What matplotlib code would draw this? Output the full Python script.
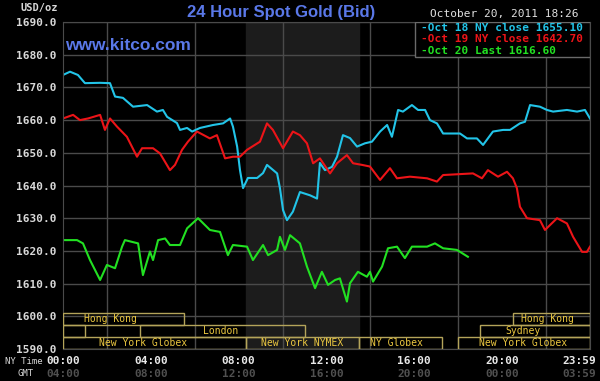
import matplotlib.pyplot as plt
import matplotlib.patches as patches
from matplotlib.ticker import MultipleLocator

# hours since 00:00 NY time, bid prices
oct18_hours = [0, 0.32, 0.68, 1.00, 1.69, 2.14, 2.37, 2.73, 3.19, 3.83, 4.28,
               4.55, 4.74, 5.19, 5.33, 5.65, 5.88, 6.24, 6.83, 7.29, 7.61,
               7.74, 7.93, 8.06, 8.20, 8.42, 8.84, 9.11, 9.29, 9.75, 9.88,
               10.02, 10.20, 10.47, 10.79, 11.25, 11.57, 11.70, 11.93, 12.25,
               12.48, 12.75, 13.07, 13.39, 13.75, 14.07, 14.44, 14.76, 14.98,
               15.26, 15.48, 15.89, 16.17, 16.49, 16.71, 17.03, 17.31, 18.08,
               18.40, 18.85, 19.13, 19.58, 20.04, 20.36, 20.81, 21.04, 21.27,
               21.72, 22.04, 22.32, 22.95, 23.41, 23.77, 24.0]
oct18_price = [1673.8, 1674.8, 1673.8, 1671.3, 1671.4, 1671.3, 1667.2, 1666.8,
               1664.1, 1664.6, 1662.6, 1663.1, 1661.0, 1659.1, 1657.0, 1657.6,
               1656.5, 1657.6, 1658.5, 1659.0, 1660.5, 1658.0, 1651.9, 1644.7,
               1639.2, 1642.3, 1642.3, 1643.8, 1646.3, 1643.7, 1639.2, 1632.5,
               1629.4, 1632.0, 1638.0, 1637.0, 1636.0, 1646.9, 1644.7, 1645.7,
               1648.8, 1655.4, 1654.5, 1651.9, 1652.9, 1653.4, 1656.5, 1658.5,
               1654.9, 1663.1, 1662.6, 1664.6, 1663.1, 1663.1, 1660.0, 1659.0,
               1655.9, 1655.9, 1654.4, 1654.4, 1652.4, 1656.5, 1657.0, 1657.0,
               1659.0, 1659.5, 1664.6, 1664.1, 1663.1, 1662.6, 1663.1, 1662.6,
               1663.1, 1660.5]

oct19_hours = [0, 0.46, 0.77, 1.14, 1.69, 1.91, 2.14, 2.46, 2.91, 3.37, 3.60,
               4.10, 4.42, 4.87, 5.10, 5.42, 5.69, 6.10, 6.69, 7.01, 7.38,
               7.74, 8.06, 8.38, 8.97, 9.29, 9.56, 10.02, 10.47, 10.79, 11.11,
               11.39, 11.70, 12.16, 12.48, 12.93, 13.21, 13.62, 13.98, 14.44,
               14.89, 15.21, 15.80, 16.58, 17.03, 17.31, 18.67, 19.08, 19.35,
               19.81, 20.22, 20.49, 20.67, 20.81, 21.13, 21.72, 21.95, 22.50,
               22.95, 23.23, 23.64, 23.86, 24.0]
oct19_price = [1660.5, 1661.6, 1660.0, 1660.5, 1661.6, 1657.0, 1660.5, 1658.0,
               1654.9, 1648.8, 1651.4, 1651.4, 1649.8, 1644.7, 1646.3, 1650.9,
               1653.4, 1656.5, 1654.4, 1655.4, 1648.3, 1648.8, 1648.8, 1650.9,
               1653.4, 1659.0, 1657.0, 1651.4, 1656.5, 1655.4, 1652.9, 1646.8,
               1648.3, 1643.7, 1646.8, 1649.3, 1646.8, 1646.3, 1645.8, 1641.7,
               1645.3, 1642.2, 1642.7, 1642.2, 1641.2, 1643.2, 1643.7, 1642.2,
               1644.7, 1642.7, 1644.2, 1642.2, 1639.2, 1633.5, 1630.0, 1629.4,
               1626.4, 1630.0, 1628.4, 1624.3, 1619.7, 1619.7, 1621.3]

oct20_hours = [0, 0.64, 0.91, 1.23, 1.69, 2.00, 2.37, 2.69, 2.82, 3.42, 3.64,
               3.96, 4.10, 4.33, 4.65, 4.87, 5.33, 5.65, 6.15, 6.69, 7.15,
               7.51, 7.74, 8.38, 8.65, 9.11, 9.34, 9.75, 9.88, 10.11, 10.34,
               10.79, 11.11, 11.48, 11.79, 12.07, 12.39, 12.61, 12.93, 13.07,
               13.43, 13.84, 13.98, 14.12, 14.53, 14.80, 15.21, 15.57, 15.89,
               16.58, 16.94, 17.31, 17.94, 18.44]
oct20_price = [1623.3, 1623.3, 1622.3, 1617.2, 1611.1, 1615.7, 1614.7, 1621.3,
               1623.3, 1622.3, 1612.6, 1619.8, 1617.2, 1623.3, 1623.8, 1621.8,
               1621.8, 1626.9, 1630.0, 1626.4, 1625.8, 1618.7, 1621.8, 1621.3,
               1617.2, 1621.8, 1618.7, 1620.3, 1624.3, 1620.3, 1624.8, 1622.3,
               1615.2, 1608.6, 1613.6, 1609.6, 1611.1, 1611.6, 1604.5, 1610.1,
               1613.6, 1612.1, 1613.6, 1610.6, 1615.2, 1620.8, 1621.3, 1617.8,
               1621.3, 1621.3, 1622.3, 1620.8, 1620.3, 1618.2]

legend_labels = ["Oct 18 NY close 1655.10",
                 "Oct 19 NY close 1642.70",
                 "Oct 20 Last 1616.60"]

ny_ticks = [0, 4, 8, 12, 16, 20, 23.5]
ny_labels = ["00:00", "04:00", "08:00", "12:00", "16:00", "20:00", "23:59"]
gmt_labels = ["04:00", "08:00", "12:00", "16:00", "20:00", "00:00", "03:59"]

# trading sessions: name, start hour, end hour, row (0 = bottom)
session_names = ["Hong Kong", "Sydney", "London", "New York Globex",
                 "New York NYMEX", "NY Globex", "New York Globex", "Sydney",
                 "Hong Kong"]
session_start = [0, 0, 3.5, 0, 8.33, 13.5, 18.0, 19.0, 20.5]
session_end = [5.5, 1.0, 11.0, 8.33, 13.5, 17.25, 24.0, 24.0, 24.0]
session_row = [2, 1, 1, 0, 0, 0, 0, 1, 2]
session_label_x = [2.15, None, 7.2, 3.65, 10.9, 15.2, 20.95, 20.95, 22.05]

nymex_open = 8.33
nymex_close = 13.5

MONO = "DejaVu Sans Mono"
CYAN = "#22c4e8"
RED = "#ec1418"
GREEN = "#22e022"
GRID = "#4a4a4a"


def draw_sessions(ax):
    row_bottom = 1590.0
    row_h = 3.7
    for name, s, e, r, lx in zip(session_names, session_start, session_end,
                                 session_row, session_label_x):
        y0 = row_bottom + r * row_h
        ax.add_patch(patches.Rectangle((s, y0), e - s, row_h, fill=False,
                                       edgecolor="#b4a45a", linewidth=1.0,
                                       zorder=3))
        if lx is not None:
            ax.text(lx, y0 + row_h / 2, name, color="#ecc840", fontsize=7,
                    family=MONO, ha="center", va="center", zorder=4)


def plot():
    fig = plt.figure(figsize=(6, 3.81), dpi=100, facecolor="black")
    ax = fig.add_axes([63 / 600, 1 - 349 / 381, 527 / 600, 327 / 381])
    ax.set_facecolor("black")
    ax.set_xlim(0, 24)
    ax.set_ylim(1590, 1690)

    ax.axvspan(nymex_open, nymex_close, color="#1c1c1c", zorder=0)

    ax.xaxis.set_minor_locator(MultipleLocator(2))
    ax.set_yticks(range(1590, 1691, 10))
    ax.set_yticklabels([f"{v}.0" for v in range(1590, 1691, 10)])
    ax.grid(True, which="minor", axis="x", color=GRID, linewidth=1.0)
    ax.grid(True, which="major", axis="y", color=GRID, linewidth=1.0)
    ax.set_axisbelow(True)
    for sp in ax.spines.values():
        sp.set_color(GRID)

    ax.set_xticks(ny_ticks)
    ax.set_xticklabels(ny_labels)
    ax.tick_params(which="both", length=0)
    ax.tick_params(axis="y", pad=5, colors="#d8d8d8", labelsize=8)
    ax.tick_params(axis="x", pad=5, colors="#e8e8e8", labelsize=8)
    for lbl in ax.get_xticklabels() + ax.get_yticklabels():
        lbl.set_family(MONO)
        lbl.set_fontweight("bold")

    for x, g in zip(ny_ticks, gmt_labels):
        ax.text(x, -0.075, g, transform=ax.get_xaxis_transform(),
                color="#505050", fontsize=8, family=MONO, fontweight="bold",
                ha="center", va="center")

    ax.plot(oct18_hours, oct18_price, color=CYAN, linewidth=1.5, zorder=2)
    ax.plot(oct19_hours, oct19_price, color=RED, linewidth=1.5, zorder=2)
    ax.plot(oct20_hours, oct20_price, color=GREEN, linewidth=1.5, zorder=2)

    draw_sessions(ax)

    # legend box in the top right corner
    box = patches.Rectangle(((415 - 63) / 527, 1 - 35 / 327),
                            (590 - 415) / 527, 35 / 327,
                            transform=ax.transAxes, facecolor="black",
                            edgecolor="#6a6a6a", linewidth=1.0, zorder=5)
    ax.add_patch(box)
    for i, (txt, c) in enumerate(zip(legend_labels, [CYAN, RED, GREEN])):
        fig.text(421 / 600, 1 - (28 + 11.5 * i) / 381, "-" + txt, color=c,
                 fontsize=8, family=MONO, fontweight="bold", va="center",
                 zorder=6)

    fig.text(281 / 600, 1 - 13 / 381, "24 Hour Spot Gold (Bid)",
             color="#5a78e8", fontsize=12, family="Liberation Sans",
             fontweight="bold", ha="center", va="center")
    fig.text(65 / 600, 1 - 46 / 381, "www.kitco.com", color="#5a78e8",
             fontsize=12.5, family="Liberation Sans", fontweight="bold",
             va="center")
    fig.text(579 / 600, 1 - 14 / 381, "October 20, 2011 18:26",
             color="#e0e0e0", fontsize=8, family=MONO, ha="right",
             va="center")
    fig.text(58 / 600, 1 - 8 / 381, "USD/oz", color="#d8d8d8", fontsize=7.5,
             family=MONO, fontweight="bold", ha="right", va="center")
    fig.text(43 / 600, 1 - 361 / 381, "NY Time", color="#d8d8d8",
             fontsize=6.5, family=MONO, ha="right", va="center")
    fig.text(34 / 600, 1 - 374 / 381, "GMT", color="#d8d8d8", fontsize=6.5,
             family=MONO, ha="right", va="center")

    fig.savefig("out.png", dpi=100, facecolor="black")


def main():
    plot()


if __name__ == "__main__":
    main()
